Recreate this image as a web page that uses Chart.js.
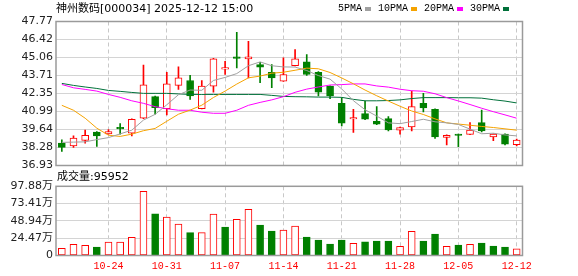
<!DOCTYPE html>
<html><head><meta charset="utf-8">
<script src="https://cdn.jsdelivr.net/npm/chart.js@4.4.1/dist/chart.umd.min.js"></script>
<style>
html,body{margin:0;padding:0;background:#fff;}
#wrap{position:relative;width:578px;height:276px;overflow:hidden;background:#fff;}
canvas{position:absolute;left:0;}
#c1{top:0;}
#c2{top:176px;}
.t{position:absolute;white-space:nowrap;color:#000;}
#title{left:56px;top:2px;font:11px/13px "DejaVu Sans","Noto Sans CJK SC";}
#vol{left:57px;top:170px;font:11px/13px "DejaVu Sans","Noto Sans CJK SC";}
#legend{left:338px;top:3px;display:flex;align-items:center;font:10px/12px "Liberation Mono";}
#legend .it{display:flex;align-items:center;margin-right:7px;}
#legend .sw{display:inline-block;width:6px;height:4px;margin-left:3px;}
</style></head>
<body>
<div id="wrap">
<canvas id="c1" width="578" height="176"></canvas>
<canvas id="c2" width="578" height="100"></canvas>
<div class="t" id="title">神州数码[000034] 2025-12-12 15:00</div>
<div class="t" id="legend"></div>
<div class="t" id="vol"></div>
</div>
<script>
// ---- data ----
const dates = ['10-20','10-21','10-22','10-23','10-24','10-27','10-28','10-29','10-30','10-31',
  '11-03','11-04','11-05','11-06','11-07','11-10','11-11','11-12','11-13','11-14',
  '11-17','11-18','11-19','11-20','11-21','11-24','11-25','11-26','11-27','11-28',
  '12-01','12-02','12-03','12-04','12-05','12-08','12-09','12-10','12-11','12-12'];
const open  = [38.61,38.41,38.82,39.44,39.31,39.74,39.36,40.49,42.11,41.21,42.96,43.33,41.21,42.90,44.18,45.11,44.96,44.53,43.95,43.28,44.45,44.73,43.95,42.90,41.61,40.43,40.84,40.26,40.46,39.59,39.83,41.61,41.16,39.04,39.24,39.27,40.16,39.09,39.29,38.49];
const high  = [38.86,39.16,39.59,39.49,39.64,40.09,40.45,44.48,42.15,43.95,44.36,43.71,43.33,45.00,44.78,46.95,46.27,44.70,44.53,45.03,45.65,45.28,44.00,42.93,42.04,41.16,41.78,41.36,40.61,39.82,42.53,42.36,41.20,39.23,39.29,40.16,41.11,39.31,39.31,38.91];
const low   = [37.99,38.29,38.61,38.37,39.29,39.29,39.16,40.45,40.79,40.73,42.66,41.91,41.18,42.45,43.78,44.28,43.53,43.16,42.78,43.25,44.42,43.71,42.16,41.96,39.91,39.42,40.38,40.01,39.54,39.29,39.54,40.96,38.97,38.47,38.34,39.25,39.46,38.79,38.47,38.41];
const close = [38.29,38.99,39.21,39.16,39.49,39.69,40.41,43.01,41.29,43.08,43.53,42.16,42.90,44.96,44.23,45.00,45.11,44.33,43.53,43.78,44.96,43.78,42.45,42.16,40.11,40.54,40.41,40.04,39.61,39.79,41.36,41.26,39.09,39.21,39.19,39.59,39.54,39.29,38.54,38.84];
const prevClose = 38.10; // close before the first day (volume bar of day 1 is red)
const volume = [10.2,15.8,14.4,12.0,19.1,19.1,25.7,90.8,59.1,54.5,44.6,32.3,32.3,58.7,40.3,51.2,65.3,43.1,34.7,36.1,41.7,26.2,21.9,16.3,21.9,17.3,19.5,20.5,20.5,13.0,34.2,20.5,30.4,13.0,14.9,15.8,17.7,13.4,12.0,9.5952]; // 万手
const ma5  = [38.67,38.69,38.71,38.88,39.03,39.31,39.59,40.35,40.78,41.50,42.26,42.61,42.59,43.33,43.56,43.85,44.44,44.73,44.44,44.35,44.34,44.08,43.70,43.43,42.69,41.81,41.13,40.65,40.14,40.08,40.24,40.41,40.22,40.14,40.02,39.67,39.32,39.36,39.23,39.16];
const ma10 = [41.46,41.09,40.49,39.74,39.21,39.12,39.29,39.55,39.72,40.26,40.79,41.10,41.47,42.05,42.53,43.06,43.53,43.66,43.88,43.95,44.10,44.26,44.21,43.93,43.52,43.08,42.61,42.18,41.78,41.39,41.03,40.77,40.44,40.14,40.05,39.96,39.87,39.79,39.69,39.59];
const ma20 = [43.03,42.78,42.66,42.53,42.28,42.06,41.80,41.61,41.36,41.20,41.09,41.09,40.94,40.86,40.86,41.09,41.46,41.68,41.87,42.11,42.44,42.68,42.84,42.99,43.02,43.07,43.07,42.92,42.83,42.67,42.56,42.52,42.33,42.04,41.79,41.52,41.24,40.98,40.74,40.49];
const ma30 = [43.11,42.96,42.84,42.73,42.58,42.51,42.43,42.36,42.36,42.36,42.32,42.28,42.28,42.28,42.28,42.28,42.28,42.28,42.21,42.13,42.11,42.10,42.08,42.08,42.06,41.91,41.80,41.80,41.82,41.87,41.97,42.04,42.04,42.04,42.03,42.03,42.00,41.88,41.78,41.64];
const maNames  = ['5PMA','10PMA','20PMA','30PMA'];
const maColors = ['#a0a0a0','#f5a300','#ff00ff','#00703a'];
const priceTicks = [36.93,38.28,39.64,40.99,42.35,43.71,45.06,46.42,47.77];
const volTicks = [0,24.47,48.94,73.41,97.88];
const dateTickLabels = ['10-24','10-31','11-07','11-14','11-21','11-28','12-05','12-12'];
const lastVolume = '95952';

// ---- text ----
const lg = document.getElementById('legend');
maNames.forEach((n,i)=>{
  const it = document.createElement('span'); it.className='it';
  it.innerHTML = '<span>'+n+'</span><span class="sw" style="background:'+maColors[i]+'"></span>';
  lg.appendChild(it);
});
document.getElementById('vol').textContent = '成交量:' + lastVolume;

const RED='#ff0000', GRN='#008000';
const up = close.map((c,i)=>c>=open[i]);
const vUp = close.map((c,i)=>c>=(i===0?prevClose:close[i-1]));

const frame = {
  id:'frame',
  afterDraw(chart){
    const {ctx, chartArea:a} = chart;
    ctx.save();
    ctx.strokeStyle='#9a9a9a'; ctx.lineWidth=1.5;
    ctx.strokeRect(a.left, a.top, a.right-a.left, a.bottom-a.top);
    ctx.restore();
  }
};
const xGridColor = ctx => dateTickLabels.includes(dates[ctx.index]) ? '#c8c8c8' : 'rgba(0,0,0,0)';
const yFont = {family:'"DejaVu Sans","Noto Sans CJK SC"', size:11};

new Chart(document.getElementById('c1'), {
  data:{
    labels: dates,
    datasets:[
      ...[ma5,ma10,ma20,ma30].map((d,i)=>({type:'line', data:d, borderColor:maColors[i], borderWidth:1, pointRadius:0, tension:0, order:i})),
      {type:'bar', data:dates.map((d,i)=>[open[i],close[i]]),
       backgroundColor:up.map(u=>u?'#ffffff':GRN), borderColor:up.map(u=>u?RED:GRN),
       borderWidth:1, borderSkipped:false, barThickness:7, minBarLength:1.5, grouped:false, order:10},
      {type:'bar', data:dates.map((d,i)=>[low[i],high[i]]),
       backgroundColor:up.map(u=>u?RED:GRN), borderWidth:0, barThickness:1, grouped:false, order:11}
    ]
  },
  options:{
    animation:false, responsive:false, devicePixelRatio:1,
    plugins:{legend:{display:false}, tooltip:{enabled:false}},
    layout:{padding:{top:21.5,right:55.5,bottom:10.5,left:0}},
    scales:{
      x:{offset:true, grid:{offset:false, color:xGridColor, drawTicks:false}, border:{display:false, dash:[4,3]},
         ticks:{display:false, autoSkip:false}, afterFit:s=>{s.height=0;}},
      y:{min:36.93, max:47.77, afterBuildTicks:s=>{s.ticks=priceTicks.map(v=>({value:v}));}, afterFit:s=>{s.width=56;},
         grid:{color:'#d4d4d4', drawTicks:false}, border:{display:false},
         ticks:{padding:3, color:'#222', font:yFont, callback:v=>Number(v).toFixed(2)}}
    }
  },
  plugins:[frame]
});

new Chart(document.getElementById('c2'), {
  type:'bar',
  data:{labels:dates, datasets:[{data:volume,
    backgroundColor:vUp.map(u=>u?'#ffffff':GRN), borderColor:vUp.map(u=>u?RED:GRN),
    borderWidth:1, borderSkipped:false, barThickness:7}]},
  options:{
    animation:false, responsive:false, devicePixelRatio:1,
    plugins:{legend:{display:false}, tooltip:{enabled:false}},
    layout:{padding:{top:10.3,right:55.5,bottom:0,left:0}},
    scales:{
      x:{offset:true, grid:{offset:false, color:xGridColor, drawTicks:false}, border:{display:false, dash:[4,3]},
         ticks:{autoSkip:false, maxRotation:0, padding:5, color:RED, font:{family:'"Liberation Mono"', size:10},
                callback:(v,i)=>dateTickLabels.includes(dates[i])?dates[i]:''},
         afterFit:s=>{s.height=20.5;}},
      y:{min:0, max:97.88, afterBuildTicks:s=>{s.ticks=volTicks.map(v=>({value:v}));}, afterFit:s=>{s.width=56;},
         grid:{color:'#d4d4d4', drawTicks:false}, border:{display:false},
         ticks:{padding:3, color:'#222', font:yFont, callback:v=>v===0?'0':Number(v).toFixed(2)+'万'}}
    }
  },
  plugins:[frame]
});
</script>
</body></html>
